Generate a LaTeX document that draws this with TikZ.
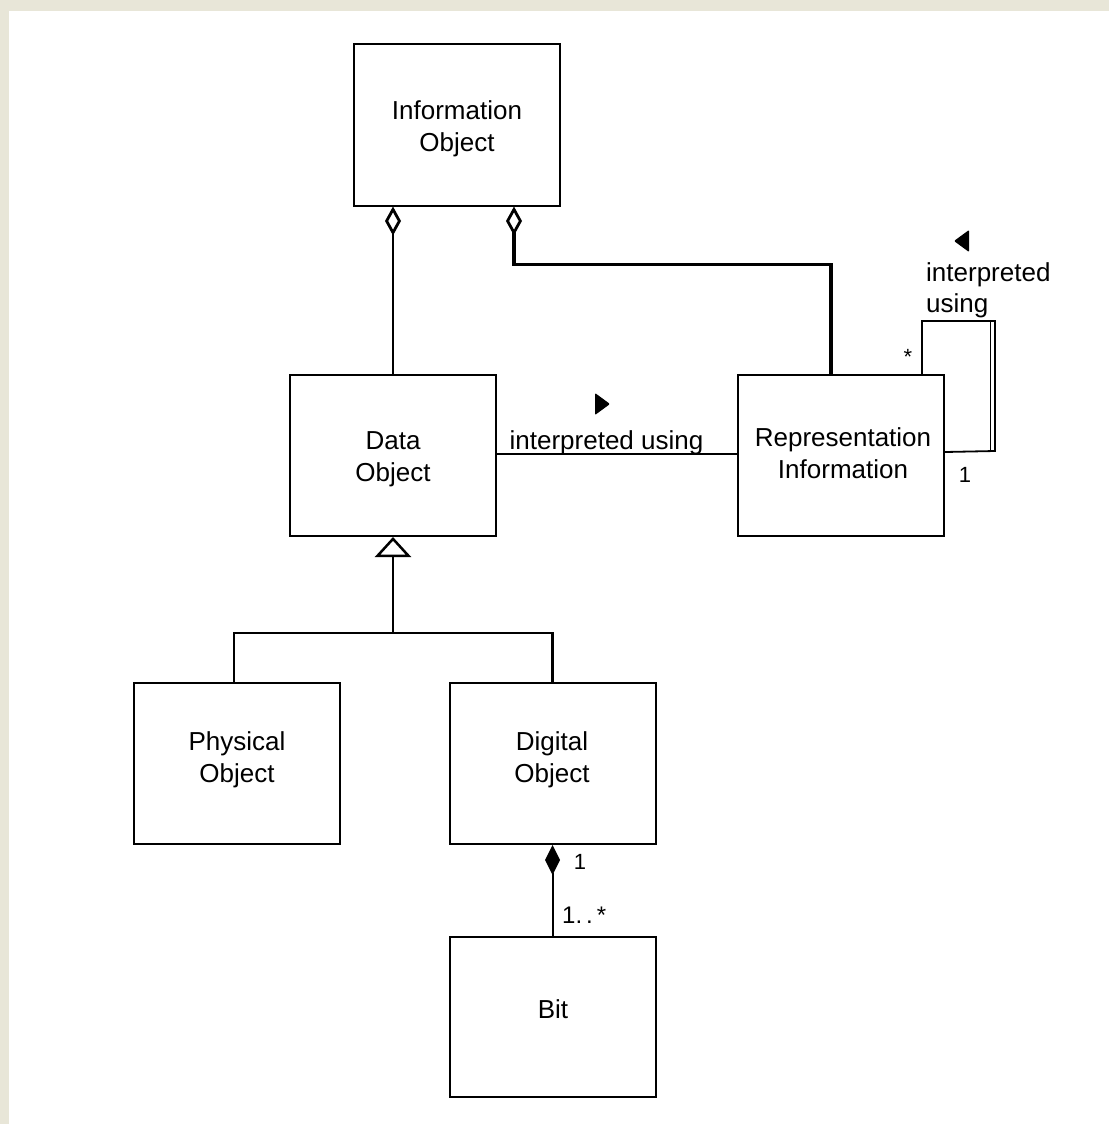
\documentclass[tikz,border=0pt]{standalone}
\usepackage{fontspec}
\setmainfont{Liberation Sans}
\usetikzlibrary{arrows.meta}
\definecolor{bgc}{RGB}{232,230,216}
\begin{document}
\begin{tikzpicture}[x=1pt,y=-1pt,
  box/.style={draw,line width=2pt,minimum width=206pt,minimum height=161pt,inner sep=0pt},
  txt/.style={align=center,inner sep=0pt,font=\fontsize{26}{32}\selectfont},
  lbl/.style={inner sep=0pt,font=\fontsize{26}{32}\selectfont},
  mult/.style={inner sep=0pt,font=\fontsize{22}{26}\selectfont},
  conn/.style={line width=2pt},
  agg/.style={{Diamond[open,length=29pt,width=16pt,line width=2.8pt]}-},
  comp/.style={{Diamond[length=30pt,width=15pt]}-},
  gen/.style={-{Triangle[open,length=20pt,width=36pt,line width=2.5pt]}}]
\useasboundingbox (0,0) rectangle (1109,1124);
\fill[bgc] (0,0) rectangle (1109,1124);
\fill[white] (9,11) rectangle (1109,1124);

% boxes
\node[box] (info) at (457,125) {};
\node[box] (dobj) at (393,455.5) {};
\node[box] (rep)  at (841,455.5) {};
\node[box] (phys) at (237,763.5) {};
\node[box] (dig)  at (552.5,763.5) {};
\node[box,minimum height=160pt] (bit) at (552.5,1017) {};

% box texts
\node[txt] (infoT) at (457,129) {Information\\Object};
\node[txt] (dobjT) at (393,459) {Data\\Object};
\node[txt] (repT)  at (843,453) {Representation\\Information};
\node[txt] (physT) at (237,760) {Physical\\Object};
\node[txt] (digT)  at (552,760) {Digital\\Object};
\node[txt] (bitT)  at (553,1009) {Bit};

% aggregation Information Object -- Data Object
\draw[conn,agg] (dobj.north |- info.south) -- (dobj.north);

% aggregation Information Object -- Representation Information (thick)
\draw[line width=3.5pt,agg] ([xshift=57pt]info.south) -- ++(0,58) -| ([xshift=-10pt]rep.north);

% interpreted using (Data Object -> Representation Information)
\draw[conn] ([yshift=1.5pt]dobj.east) -- ([yshift=1.5pt]rep.west);
\node[lbl,anchor=base] (iu) at (606.5,449) {interpreted using};
\fill[rounded corners=1pt] (595,393) -- (610,404) -- (595,415) -- cycle;

% self loop on Representation Information
\draw[line width=1.8pt] ([xshift=81pt]rep.north) -- ++(0,-53) coordinate (lt)
   -- ++(73,0) coordinate (rt) -- ++(0,130) coordinate (rb)
   -- ([yshift=3.5pt]rep.east);
\draw[line width=1.8pt] ([xshift=-4.5pt]rt) -- ([xshift=-4.5pt]rb);
\node[mult] (star) at (908,357) {*};
\node[mult] (one1) at (965,475) {1};
\node[lbl,anchor=base west] (iu2a) at (926,281) {interpreted};
\node[lbl,anchor=base west] (iu2b) at (926,312) {using};
\fill[rounded corners=1pt] (969,230) -- (954,241) -- (969,252) -- cycle;

% generalization
\coordinate (j) at (393,633);
\draw[conn,gen] (j) -- (dobj.south);
\draw[conn] ([xshift=-3pt]phys.north) |- (j) -| (dig.north);
\draw[line width=3pt] (dig.north) -- (dig.north |- j);

% composition Digital Object -- Bit
\draw[conn,comp] (dig.south) -- (bit.north);
\node[mult] (one2) at (580,862) {1};
\node[inner sep=0pt,font=\fontsize{24}{28}\selectfont,anchor=base west] (many) at (562,923) {1.\,.\,*};
\end{tikzpicture}
\end{document}
